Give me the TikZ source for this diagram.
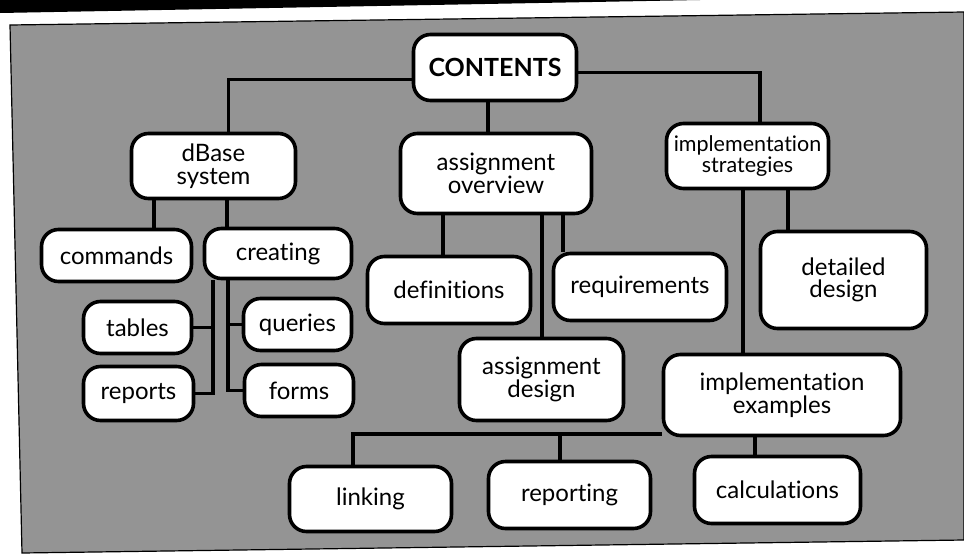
\documentclass[tikz,border=0pt]{standalone}
\usepackage{fontspec}
\setmainfont{Lato}[Ligatures={NoCommon}]
\definecolor{panelgray}{RGB}{148,148,148}
\tikzset{
  box/.style={draw=black, line width=3.6pt, fill=white, rounded corners=17pt,
    align=center, inner sep=0pt, font=\fontsize{24}{22.5}\selectfont},
  link/.style={draw=black, line width=3.4pt},
}
\begin{document}
\begin{tikzpicture}[x=1pt,y=-1pt]
\useasboundingbox (0,0) rectangle (964,555);
\fill[white] (0,0) rectangle (964,555);
% black bar and grey panel
\fill[black] (0,0) -- (700,0) -- (0,13) -- cycle;
\filldraw[fill=panelgray, draw=black, line width=1.2pt]
  (10,25) -- (964,12) -- (964,540) -- (22,553) -- cycle;

\node[box, minimum width=163pt, minimum height=66pt, font=\fontsize{25}{20}\selectfont\bfseries] (contents) at (495,67.5) {CONTENTS};
\node[box, minimum width=164pt, minimum height=65pt] (dbase) at (213.5,166) {dBase\\system};
\node[box, minimum width=191pt, minimum height=80pt] (aover) at (496,173.5) {assignment\\overview};
\node[box, minimum width=162pt, minimum height=65pt, font=\fontsize{21.5}{20.5}\selectfont] (istrat) at (747.5,156) {implementation\\strategies};
\node[box, minimum width=150pt, minimum height=52pt] (commands) at (116.5,255.5) {commands};
\node[box, minimum width=147pt, minimum height=50pt] (creating) at (278,253.5) {creating};
\node[box, minimum width=108pt, minimum height=52pt] (tables) at (137.5,327.5) {tables};
\node[box, minimum width=108pt, minimum height=52pt] (queries) at (297.5,324.5) {queries};
\node[box, minimum width=110pt, minimum height=54pt] (reports) at (138.5,393.5) {reports};
\node[box, minimum width=109pt, minimum height=52pt] (forms) at (299,390.5) {forms};
\node[box, minimum width=163pt, minimum height=67pt] (defs) at (449,290) {definitions};
\node[box, minimum width=173pt, minimum height=67pt] (reqs) at (640,287) {requirements};
\node[box, minimum width=166pt, minimum height=97pt] (detailed) at (843.5,280) {detailed\\design};
\node[box, minimum width=164pt, minimum height=82pt] (adesign) at (541.5,379.5) {assignment\\design};
\node[box, minimum width=237pt, minimum height=81pt] (iexamples) at (782,395) {implementation\\examples};
\node[box, minimum width=162pt, minimum height=65pt] (linking) at (370.5,499) {linking};
\node[box, minimum width=162pt, minimum height=67pt] (reporting) at (569.5,495) {reporting};
\node[box, minimum width=166pt, minimum height=67pt] (calcs) at (777.5,490) {calculations};

% connectors
\draw[link] ([yshift=-12pt]contents.west) -| ([xshift=15pt]dbase.north);
\draw[link] ([yshift=-5pt]contents.east) -| ([xshift=12.5pt]istrat.north);
\draw[link] ([xshift=-7pt]contents.south) -- ([xshift=-7pt]contents.south |- aover.north);

\draw[link] ([xshift=-59.5pt]dbase.south) -- ([xshift=-59.5pt]dbase.south |- commands.north);
\draw[link] ([xshift=13.5pt]dbase.south) -- ([xshift=13.5pt]dbase.south |- creating.north);

\coordinate (cl) at ([xshift=-65pt]creating.south);
\coordinate (cr) at ([xshift=-50pt]creating.south);
\draw[link] (cl) |- (reports.east);
\draw[link] (tables.east) -- (tables.east -| cl);
\draw[link] (cr) |- (forms.west);
\draw[link] (queries.west) -- (queries.west -| cr);

\draw[link] ([xshift=-53pt]aover.south) -- ([xshift=-53pt]aover.south |- defs.north);
\draw[link] ([xshift=67pt]aover.south) -- ([xshift=67pt]aover.south |- reqs.north);
\draw[link] ([xshift=46pt]aover.south) -- ([xshift=46pt]aover.south |- adesign.north);

\draw[link] ([xshift=-4.5pt]istrat.south) -- ([xshift=-4.5pt]istrat.south |- iexamples.north);
\draw[link] ([xshift=40.5pt]istrat.south) -- ([xshift=40.5pt]istrat.south |- detailed.north);

\coordinate (hb) at ([yshift=-39pt]iexamples.west);
\draw[link] (hb) -| ([xshift=-17.5pt]linking.north);
\draw[link] ([xshift=-9.5pt]reporting.north) -- ([xshift=-9.5pt]reporting.north |- hb);
\draw[link] ([xshift=-27pt]iexamples.south) -- ([xshift=-27pt]iexamples.south |- calcs.north);
\end{tikzpicture}
\end{document}
